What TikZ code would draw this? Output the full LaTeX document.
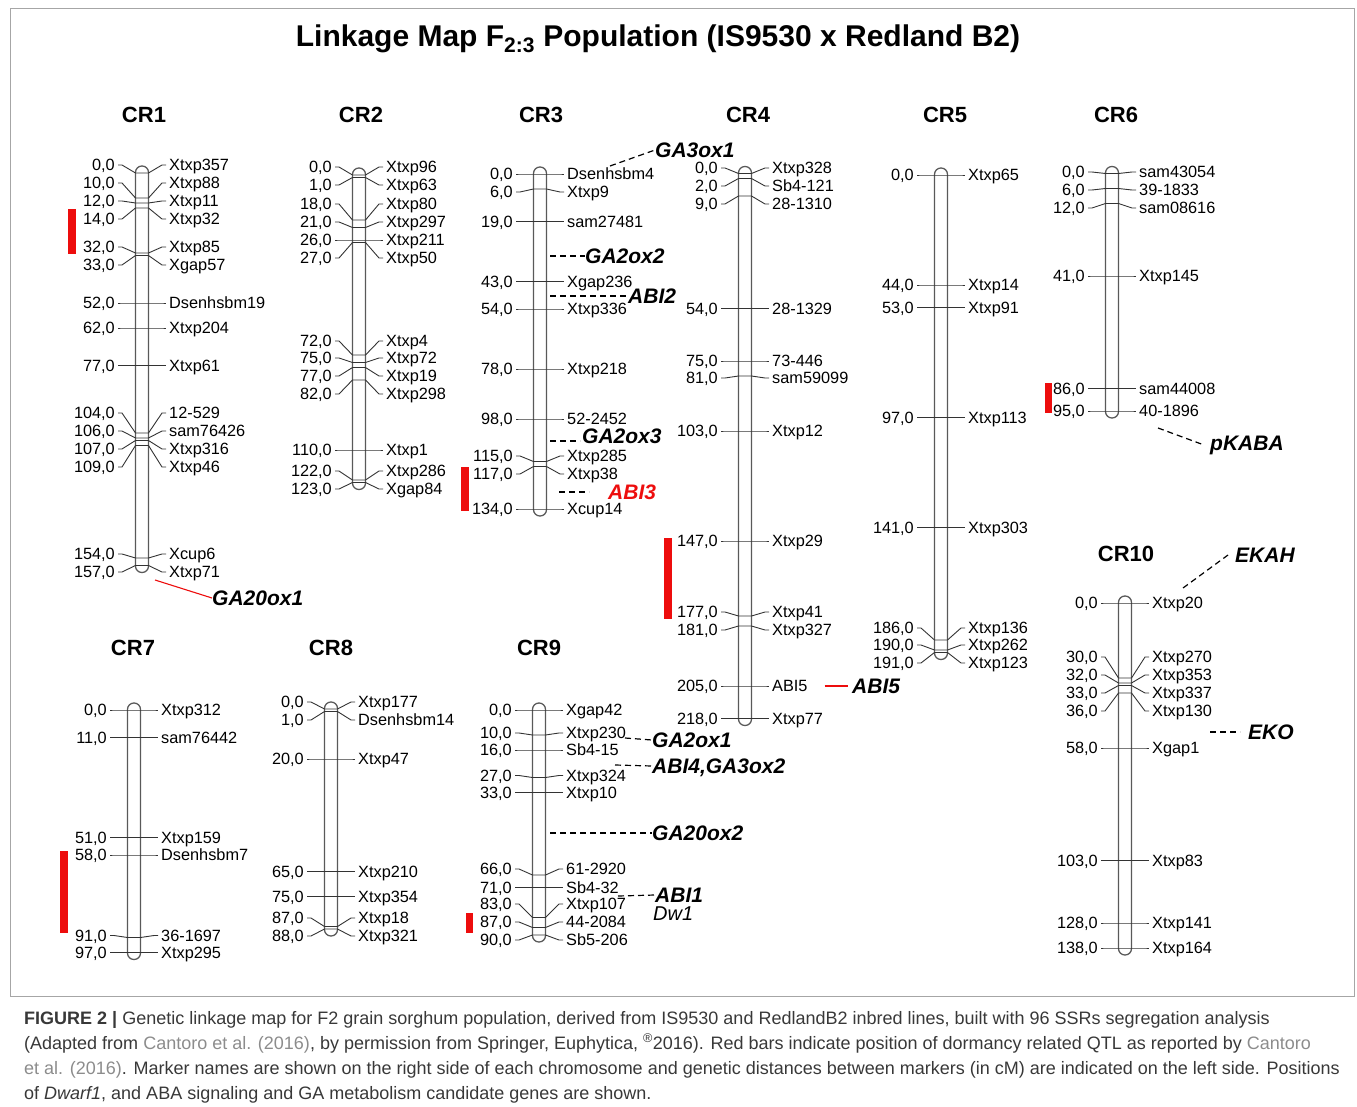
\documentclass[tikz,border=0pt]{standalone}
\usepackage{fontspec}
\setmainfont{Liberation Sans}
\usetikzlibrary{calc}
\definecolor{qtlred}{rgb}{0.93,0.05,0.05}
\definecolor{capgray}{rgb}{0.22,0.22,0.22}
\definecolor{refgray}{rgb}{0.55,0.55,0.55}
\tikzset{
  chr/.style={draw=black!65, fill=white, line width=1.3pt, rounded corners=6.4pt},
  tick/.style={draw=black!80, line width=0.9pt},
  dist/.style={anchor=east, inner xsep=3pt, inner ysep=0pt, text height=11.5pt,
               text depth=0pt, font=\fontsize{16.3}{18}\selectfont},
  mname/.style={dist, anchor=west},
  crlab/.style={inner sep=0pt, font=\fontsize{22}{24}\selectfont\bfseries},
  gene/.style={anchor=west, inner sep=0pt, text height=15pt, text depth=0pt,
               font=\fontsize{21}{23}\selectfont\bfseries\itshape},
  glink/.style={line width=1.2pt, dash pattern=on 6pt off 4pt},
  qtl/.style={fill=qtlred, draw=none},
  capline/.style={anchor=base west, inner sep=0pt, text=capgray,
                  font=\fontsize{18}{22}\selectfont},
}
% #1 id, #2 centre x, #3 y of 0 cM, #4 length (cM), #5 cM/label offset/marker
\newcommand{\chrom}[5]{%
  \draw[chr] (#2-6.5,#3-7) rectangle (#2+6.5,#3+2.5*#4+7);
  \foreach \cm/\off/\mk in {#5}{
    \pgfmathsetmacro\yy{#3+2.5*\cm}
    \pgfmathsetmacro\ly{\yy+\off}
    \node[dist] (#1d\cm) at (#2-24,\ly) {\cm,0};
    \node[mname] (#1m\cm) at (#2+24,\ly) {\mk};
    \draw[tick] (#1d\cm.east) -- (#2-20,\ly) -- (#2-6.5,\yy) -- (#2+6.5,\yy)
      -- (#2+20,\ly) -- (#1m\cm.west);
  }
}

\begin{document}
\begin{tikzpicture}[x=1pt, y=-1pt]
  \useasboundingbox (0,0) rectangle (1357,1107);
  \draw[black!35, line width=0.8pt] (10,8) rectangle (1354,996);
  \node[font=\fontsize{30}{32}\selectfont\bfseries] (title) at (658,39)
    {Linkage Map F\textsubscript{2:3} Population (IS9530 x Redland B2)};

  % chromosome headings
  \node[crlab] (cr1) at (144,115) {CR1};
  \node[crlab] (cr2) at (361,115) {CR2};
  \node[crlab] (cr3) at (541,115) {CR3};
  \node[crlab] (cr4) at (748,115) {CR4};
  \node[crlab] (cr5) at (945,115) {CR5};
  \node[crlab] (cr6) at (1116,115) {CR6};
  \node[crlab] (cr7) at (133,648) {CR7};
  \node[crlab] (cr8) at (331,648) {CR8};
  \node[crlab] (cr9) at (539,648) {CR9};
  \node[crlab] (cr10) at (1126,554) {CR10};

  % QTL bars
  \fill[qtl] (68,209) rectangle (76,254);
  \fill[qtl] (461,467) rectangle (469,511);
  \fill[qtl] (664,538) rectangle (672,619);
  \fill[qtl] (1045,383) rectangle (1052,413);
  \fill[qtl] (60,851) rectangle (68,933);
  \fill[qtl] (466,913) rectangle (473,933);

  \chrom{a}{142}{173}{157}{0/-8/Xtxp357, 10/-15/Xtxp88, 12/-2/Xtxp11, 14/11/Xtxp32,
    32/-6/Xtxp85, 33/9.5/Xgap57, 52/0/Dsenhsbm19, 62/0/Xtxp204, 77/0/Xtxp61,
    104/-20/12-529, 106/-7/sam76426, 107/8.5/Xtxp316, 109/21.5/Xtxp46,
    154/-4/Xcup6, 157/6.5/Xtxp71}
  \chrom{b}{359}{175}{123}{0/-8/Xtxp96, 1/7.5/Xtxp63, 18/-16/Xtxp80, 21/-5.5/Xtxp297,
    26/0/Xtxp211, 27/15.5/Xtxp50, 72/-14/Xtxp4, 75/-4.5/Xtxp72, 77/8.5/Xtxp19,
    82/14/Xtxp298, 110/0/Xtxp1, 122/-9/Xtxp286, 123/6.5/Xgap84}
  \chrom{c}{540}{174}{134}{0/0/Dsenhsbm4, 6/3/Xtxp9, 19/0/sam27481, 43/0/Xgap236,
    54/0/Xtxp336, 78/0/Xtxp218, 98/0/52-2452, 115/-5.5/Xtxp285, 117/7.5/Xtxp38,
    134/0/Xcup14}
  \chrom{d}{745}{173.5}{218}{0/-5.5/Xtxp328, 2/7.5/Sb4-121, 9/8/28-1310, 54/0/28-1329,
    75/0/73-446, 81/2/sam59099, 103/0/Xtxp12, 147/0/Xtxp29, 177/-4/Xtxp41,
    181/4/Xtxp327, 205/0/ABI5, 218/0/Xtxp77}
  \chrom{e}{941}{175}{191}{0/0/Xtxp65, 44/0/Xtxp14, 53/0/Xtxp91, 97/0/Xtxp113,
    141/0/Xtxp303, 186/-12/Xtxp136, 190/-5/Xtxp262, 191/10.5/Xtxp123}
  \chrom{f}{1112}{173.5}{95}{0/-1.5/sam43054, 6/1.5/39-1833, 12/4.5/sam08616,
    41/0/Xtxp145, 86/0/sam44008, 95/0/40-1896}
  \chrom{g}{134}{710}{97}{0/0/Xtxp312, 11/0/sam76442, 51/0/Xtxp159, 58/0/Dsenhsbm7,
    91/-2/36-1697, 97/0/Xtxp295}
  \chrom{h}{331}{709}{88}{0/-7/Xtxp177, 1/8.5/Dsenhsbm14, 20/0/Xtxp47, 65/0/Xtxp210,
    75/0/Xtxp354, 87/-8.5/Xtxp18, 88/7/Xtxp321}
  \chrom{i}{539}{710}{90}{0/0/Xgap42, 10/-2/Xtxp230, 16/0/Sb4-15, 27/-2/Xtxp324,
    33/0/Xtxp10, 66/-6/61-2920, 71/0/Sb4-32, 83/-13.5/Xtxp107, 87/-5.5/44-2084,
    90/5/Sb5-206}
  \chrom{j}{1125}{603}{138}{0/0/Xtxp20, 30/-21/Xtxp270, 32/-8/Xtxp353, 33/7.5/Xtxp337,
    36/18/Xtxp130, 58/0/Xgap1, 103/0/Xtxp83, 128/0/Xtxp141, 138/0/Xtxp164}

  % candidate genes
  \node[gene] (ga20oxa) at (212,598) {GA20ox1};
  \coordinate (ga20oxa-s) at (155,580);
  \draw[qtlred, line width=1.1pt] (ga20oxa-s) -- (ga20oxa.west);

  \node[gene] (ga3oxa) at (655,150) {GA3ox1};
  \coordinate (ga3oxa-s) at (610,166);
  \draw[glink] (ga3oxa-s) -- (ga3oxa.west);
  \node[gene] (ga2oxb) at (585,256) {GA2ox2};
  \coordinate (ga2oxb-s) at (550,256);
  \draw[glink] (ga2oxb-s) -- (ga2oxb.west);
  \node[gene] (abi2) at (628,296) {ABI2};
  \coordinate (abi2-s) at (550,296);
  \draw[glink] (abi2-s) -- (abi2.west);
  \node[gene] (ga2oxc) at (582,436) {GA2ox3};
  \coordinate (ga2oxc-s) at (550,441);
  \draw[glink] (ga2oxc-s) -- ++(30,0);
  \node[gene, text=qtlred] (abi3) at (608,492) {ABI3};
  \coordinate (abi3-s) at (559,492);
  \draw[glink] (abi3-s) -- ++(30,0);

  \node[gene] (abi5) at (852,686) {ABI5};
  \draw[qtlred, line width=1.1pt] ($(dm205.east)+(14,0)$) -- ($(abi5.west)+(-4,0)$);

  \node[gene] (pkaba) at (1210,443) {pKABA};
  \coordinate (pkaba-s) at (1158,428);
  \draw[glink] (pkaba-s) -- ($(pkaba.west)+(-6,2)$);

  \node[gene] (ekah) at (1235,555) {EKAH};
  \coordinate (ekah-s) at (1183,588);
  \draw[glink] (ekah-s) -- ($(ekah.west)+(-7,0)$);
  \node[gene] (eko) at (1248,732) {EKO};
  \coordinate (eko-s) at (1210,732);
  \draw[glink] (eko-s) -- ($(eko.west)+(-8,0)$);

  \node[gene] (ga2oxa) at (652,740) {GA2ox1};
  \coordinate (ga2oxa-s) at (625,738);
  \draw[glink] (ga2oxa-s) -- (ga2oxa.west);
  \node[gene] (abi4) at (652,766) {ABI4,GA3ox2};
  \coordinate (abi4-s) at (615,765);
  \draw[glink] (abi4-s) -- (abi4.west);
  \node[gene] (ga20oxb) at (652,833) {GA20ox2};
  \coordinate (ga20oxb-s) at (550,833);
  \draw[glink] (ga20oxb-s) -- (ga20oxb.west);
  \node[gene] (abi1) at (655,895) {ABI1};
  \coordinate (abi1-s) at (618,896);
  \draw[glink] (abi1-s) -- (abi1.west);
  \node[gene, font=\fontsize{20}{22}\selectfont\itshape] (dw1) at (653,913) {Dw1};

  % caption
  \node[capline] (cap1) at (24,1024) {\textbf{FIGURE 2 |} Genetic linkage map for F2 grain sorghum population, derived from IS9530 and RedlandB2 inbred lines, built with 96 SSRs segregation analysis};
  \node[capline] (cap2) at (24,1049) {(Adapted from \textcolor{refgray}{Cantoro et al. (2016)}, by permission from Springer, Euphytica, \textsuperscript{\textregistered}2016). Red bars indicate position of dormancy related QTL as reported by \textcolor{refgray}{Cantoro}};
  \node[capline] (cap3) at (24,1074) {\textcolor{refgray}{et al. (2016)}. Marker names are shown on the right side of each chromosome and genetic distances between markers (in cM) are indicated on the left side. Positions};
  \node[capline] (cap4) at (24,1099) {of \textit{Dwarf1}, and ABA signaling and GA metabolism candidate genes are shown.};
\end{tikzpicture}
\end{document}
